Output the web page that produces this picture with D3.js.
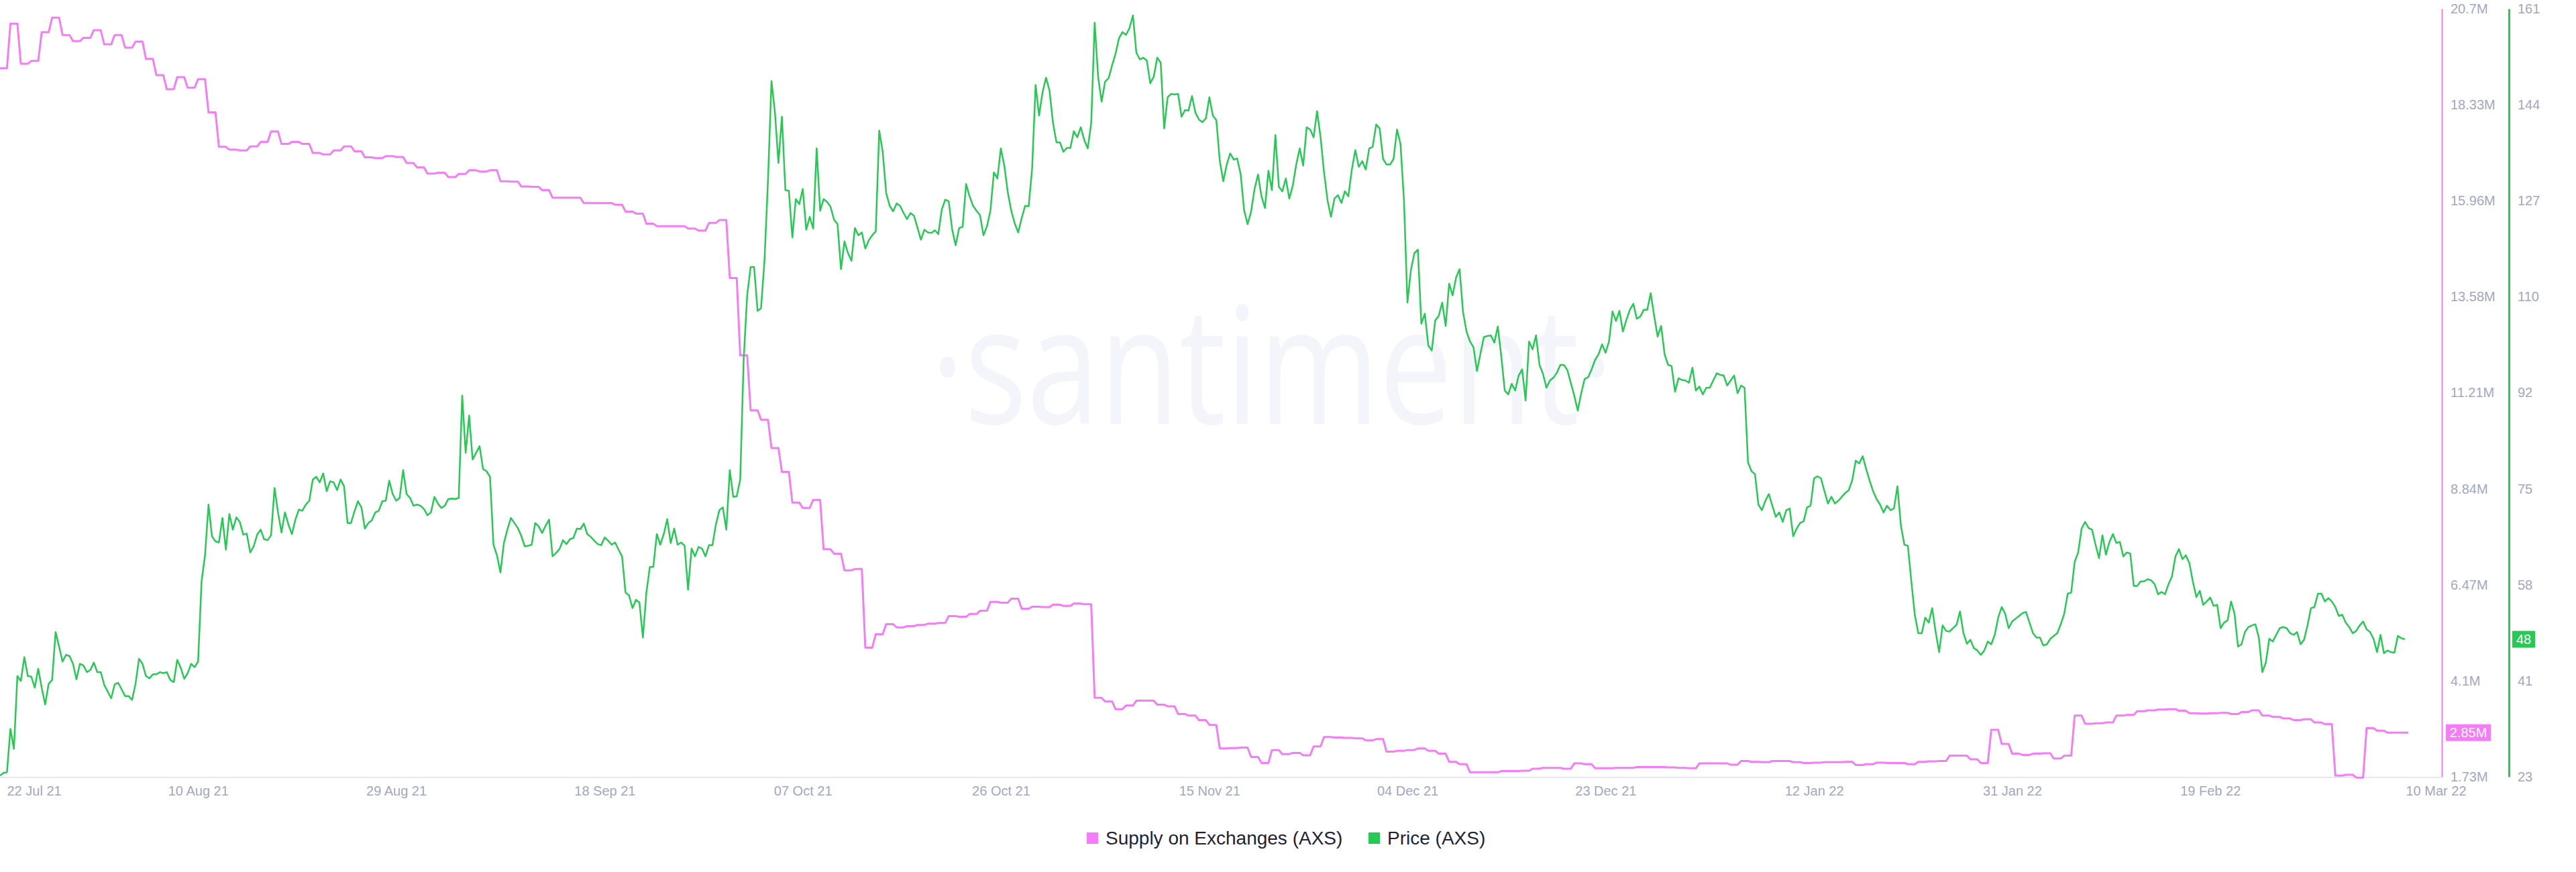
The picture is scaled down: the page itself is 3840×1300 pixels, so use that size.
<!DOCTYPE html>
<html><head><meta charset="utf-8">
<script src="https://cdn.jsdelivr.net/npm/d3@7"></script>
<style>html,body{margin:0;padding:0;background:#fff;} svg{display:block;}</style>
</head><body>
<svg id="chart" width="3840" height="1300"></svg>
<script>
// ---------------- DATA ----------------
const startDate = "2021-07-22T00:00:00Z";
const endDate = "2022-03-10T00:00:00Z";
const priceStepHours = 8;
const supplyStepHours = 24;
const seriesNames = ["Supply on Exchanges (AXS)", "Price (AXS)"];

// Price (AXS), USD, one value every 8 hours from startDate
const priceValues = [
23.2,23.7,23.8,31.6,28.0,41.1,40.2,44.5,41.1,41.0,39.0,42.4,39.0,36.0,39.7,40.4,49.0,46.4,43.7,44.9,
44.7,43.3,40.5,43.3,43.0,41.8,42.2,43.5,41.8,41.8,39.5,38.3,37.1,39.6,39.9,38.7,37.5,37.5,36.8,39.7,
44.2,43.3,41.1,40.7,41.4,41.4,41.8,41.6,41.8,40.4,40.0,44.0,42.6,40.6,41.6,43.3,42.7,43.7,58.1,62.8,
71.9,66.2,65.3,65.1,69.5,63.8,70.2,67.4,69.6,68.8,66.5,66.7,63.3,64.4,66.5,67.4,65.7,65.5,66.4,74.9,
70.5,66.9,70.5,68.3,66.6,69.2,71.0,70.8,71.9,72.6,76.4,76.9,75.9,77.5,74.3,76.1,75.9,74.5,76.4,75.2,
68.6,68.6,70.7,72.5,71.4,67.6,68.6,69.1,70.5,70.8,72.5,72.6,76.2,73.8,72.6,73.1,78.1,73.8,73.1,71.7,
71.9,71.7,71.1,70.0,70.5,73.3,72.1,71.3,71.7,72.9,73.0,72.9,73.1,91.5,81.2,87.9,80.0,81.2,82.4,78.3,
77.9,76.9,64.7,62.8,59.7,65.0,67.4,69.5,68.6,67.7,66.3,64.4,64.5,64.7,68.6,68.0,66.8,68.1,69.2,62.6,
63.2,63.9,65.5,64.8,65.7,65.9,67.6,67.5,68.5,66.6,66.1,65.4,64.8,64.6,66.0,65.4,64.7,65.1,63.8,62.6,
56.1,55.6,53.3,54.8,54.3,48.0,56.1,60.7,60.7,66.6,64.7,66.6,69.3,65.0,67.6,64.7,65.1,64.5,56.6,64.0,
62.6,64.3,64.0,62.6,64.6,64.6,68.3,70.9,71.4,67.4,78.1,73.3,73.4,76.4,98.0,109.5,114.6,114.6,106.7,107.2,
115.9,130.3,148.0,142.3,133.3,141.6,128.4,128.3,119.9,126.8,125.9,128.6,121.3,123.6,121.5,135.9,124.7,126.8,126.3,125.4,
123.1,122.3,114.2,119.2,117.1,115.7,121.6,120.3,120.8,117.9,119.4,120.3,121.0,139.1,135.3,127.9,125.6,124.6,126.0,125.6,
124.3,123.2,124.3,123.8,121.7,119.5,121.3,120.8,120.7,121.2,120.5,124.9,126.7,126.4,121.3,118.5,121.6,121.8,129.5,127.3,
125.6,124.7,123.9,120.3,121.9,124.7,131.6,130.5,135.9,132.8,128.0,124.7,122.4,120.8,123.4,125.6,125.5,132.3,147.3,141.8,
146.0,148.6,146.3,140.5,137.0,137.0,135.3,136.0,136.0,139.0,137.9,139.7,137.4,135.9,140.4,158.5,148.7,144.3,147.9,148.5,
150.8,152.9,155.7,156.8,156.3,157.5,159.8,153.1,151.9,152.2,151.7,147.6,148.8,152.2,151.3,139.5,145.1,145.7,145.6,145.7,
141.6,142.8,142.7,145.3,142.3,141.1,140.6,141.3,145.1,141.8,141.0,133.7,130.0,133.0,135.0,133.9,134.1,131.3,124.8,122.3,
124.5,128.6,131.2,127.3,125.2,131.9,128.4,138.3,129.0,128.2,130.5,126.9,129.2,133.0,135.9,132.8,139.7,139.3,137.9,142.6,
137.9,131.6,126.6,123.6,126.9,127.5,126.1,128.2,127.3,132.1,135.6,132.6,133.6,132.1,135.9,136.2,140.2,139.5,134.0,133.0,
133.0,134.0,139.3,136.7,126.6,108.2,114.1,117.1,117.7,104.4,106.2,100.5,99.6,105.0,105.8,108.2,104.0,111.6,109.5,112.7,
114.2,106.5,103.0,101.2,100.2,95.9,99.0,102.0,102.2,102.3,101.0,103.9,98.6,92.4,91.7,93.6,92.4,95.1,96.2,90.6,
101.2,99.8,102.3,97.0,95.4,92.9,94.2,94.7,95.6,97.0,97.0,96.1,93.8,91.5,88.8,91.9,94.5,94.8,96.2,97.9,
98.9,100.7,99.2,101.2,106.6,104.9,106.7,103.0,105.1,106.9,108.0,105.3,105.7,106.9,106.9,109.9,105.8,102.1,104.0,98.9,
97.0,96.8,92.2,94.6,94.3,94.2,93.8,96.5,92.4,93.1,91.7,92.9,92.9,94.2,95.5,95.2,95.1,93.3,94.2,95.1,
91.9,93.3,92.9,79.5,77.9,77.4,71.9,70.9,72.6,73.8,71.7,69.7,70.5,68.8,70.9,71.2,66.2,67.6,68.6,68.9,
71.4,71.7,76.6,77.0,76.6,74.3,72.1,73.3,72.1,72.6,73.3,74.0,74.5,76.3,79.8,79.3,80.6,78.3,76.2,74.3,
72.9,71.9,70.5,71.7,70.9,71.2,75.2,68.1,64.7,64.5,58.1,52.1,48.8,48.8,51.6,50.7,53.3,49.0,45.4,50.2,
49.2,49.1,49.7,50.3,52.7,48.8,46.9,47.6,46.1,45.7,44.9,45.7,47.3,46.8,48.5,51.6,53.5,52.3,49.7,50.9,
51.4,51.9,52.4,52.6,50.7,48.8,48.0,48.0,46.6,46.8,47.8,48.3,48.8,50.4,52.3,55.9,56.1,61.6,63.3,67.6,
68.8,67.7,67.4,64.7,62.3,66.4,62.9,65.2,66.6,65.0,65.2,62.6,63.3,63.1,57.3,57.3,58.1,58.1,58.5,58.3,
57.6,55.8,56.2,55.8,57.6,59.0,62.6,63.9,62.1,62.8,61.4,58.1,55.3,56.4,53.9,54.5,55.2,53.7,53.9,49.7,
50.7,51.1,54.5,52.3,46.4,46.8,49.0,49.9,50.2,50.4,48.0,41.8,43.5,47.8,47.3,48.5,49.7,49.9,49.7,48.8,
48.5,49.0,46.8,47.6,50.2,53.3,53.5,55.9,55.9,54.5,55.1,54.5,53.5,51.9,52.1,50.7,49.9,48.8,49.2,50.2,
50.9,49.5,49.0,47.8,45.4,48.5,45.2,45.7,45.4,45.3,48.3,47.9,47.7
];

// Supply on Exchanges (AXS), millions, one value per day from startDate
const supplyValues = [
19.23,20.33,19.34,19.41,20.12,20.48,20.05,19.90,19.98,20.17,19.82,20.05,19.74,19.89,19.46,19.06,18.71,19.01,18.75,18.96,
18.14,17.29,17.22,17.20,17.30,17.41,17.67,17.36,17.41,17.36,17.14,17.10,17.20,17.30,17.18,17.03,17.01,17.06,17.04,16.89,
16.78,16.63,16.65,16.54,16.62,16.71,16.68,16.71,16.44,16.43,16.31,16.30,16.22,16.03,16.03,16.03,15.90,15.90,15.90,15.86,
15.69,15.64,15.39,15.33,15.33,15.33,15.27,15.22,15.41,15.48,14.05,12.14,10.78,10.55,9.85,9.26,8.50,8.37,8.57,7.35,
7.24,6.83,6.86,4.92,5.25,5.50,5.42,5.45,5.48,5.51,5.53,5.70,5.68,5.75,5.83,6.05,6.03,6.13,5.88,5.93,
5.92,5.98,5.95,6.01,5.99,3.68,3.59,3.40,3.49,3.61,3.61,3.51,3.47,3.28,3.24,3.13,3.01,2.43,2.44,2.45,
2.22,2.07,2.39,2.29,2.32,2.26,2.48,2.71,2.70,2.69,2.68,2.63,2.66,2.35,2.37,2.39,2.43,2.37,2.30,2.10,
2.04,1.84,1.84,1.84,1.87,1.87,1.88,1.93,1.95,1.95,1.93,2.06,2.04,1.94,1.94,1.95,1.95,1.97,1.97,1.97,
1.96,1.95,1.94,2.06,2.06,2.06,2.03,2.12,2.10,2.09,2.12,2.12,2.09,2.07,2.08,2.09,2.09,2.10,2.02,2.04,
2.08,2.07,2.07,2.04,2.10,2.11,2.12,2.25,2.25,2.16,2.07,2.89,2.54,2.30,2.27,2.30,2.31,2.18,2.25,3.24,
3.04,3.05,3.07,3.24,3.26,3.35,3.37,3.39,3.40,3.36,3.30,3.29,3.30,3.31,3.28,3.33,3.37,3.24,3.21,3.17,
3.13,3.15,3.07,3.03,1.76,1.78,1.71,2.93,2.87,2.82,2.82,2.82
];

const xTickDates = ["2021-07-22","2021-08-10","2021-08-29","2021-09-18","2021-10-07","2021-10-26",
  "2021-11-15","2021-12-04","2021-12-23","2022-01-12","2022-01-31","2022-02-19","2022-03-10"];
const xTickLabels = ["22 Jul 21","10 Aug 21","29 Aug 21","18 Sep 21","07 Oct 21","26 Oct 21",
  "15 Nov 21","04 Dec 21","23 Dec 21","12 Jan 22","31 Jan 22","19 Feb 22","10 Mar 22"];

const supplyTickValues = [1.73, 4.10125, 6.4725, 8.84375, 11.215, 13.58625, 15.9575, 18.32875, 20.7];
const supplyTickLabels = ["1.73M","4.1M","6.47M","8.84M","11.21M","13.58M","15.96M","18.33M","20.7M"];
const priceTickValues = [23, 40.25, 57.5, 74.75, 92, 109.25, 126.5, 143.75, 161];
const priceTickLabels = ["23","41","58","75","92","110","127","144","161"];

const lastSupplyLabel = "2.85M";
const lastPriceLabel = "48";

// ---------------- LAYOUT / STYLE ----------------
const PINK = "#f47cf6", GREEN = "#26c953";
const TICK_COLOR = "#9fa8c0";
const plotLeft = 0, plotRight = 3590, plotTop = 13, plotBottom = 1158;
const supplyAxisX = 3640, priceAxisX = 3740;
const FONT = "'Liberation Sans', Arial, Helvetica, sans-serif";

const svg = d3.select("#chart");
svg.append("rect").attr("width",3840).attr("height",1300).attr("fill","#fff");

const t0 = new Date(startDate), t1 = new Date(endDate);
const x = d3.scaleUtc().domain([t0, t1]).range([plotLeft, plotRight]);
const ySupply = d3.scaleLinear().domain([1.73, 20.7]).range([plotBottom, plotTop]);
const yPrice = d3.scaleLinear().domain([23, 161]).range([plotBottom, plotTop]);

const H = 3600 * 1000;
const priceData = priceValues.map((v, i) => ({ t: new Date(t0.getTime() + i * priceStepHours * H), v }));
const supplyData = supplyValues.map((v, i) => ({ t: new Date(t0.getTime() + i * supplyStepHours * H), v }));

// watermark
svg.append("text")
  .attr("transform", "translate(1896,632) scale(0.8,1)")
  .attr("text-anchor", "middle")
  .attr("font-family", "'Open Sans', 'Noto Sans', sans-serif")
  .attr("font-weight", 400)
  .attr("font-size", 243)
  .attr("fill", "#f3f5fa")
  .text("·santiment·");

// x baseline
svg.append("line")
  .attr("x1", 0).attr("x2", supplyAxisX)
  .attr("y1", plotBottom + 1).attr("y2", plotBottom + 1)
  .attr("stroke", "#e4e8f1").attr("stroke-width", 2);

// stepped supply curve: hold value, then slant to next value
function curveSlantStep(context) {
  let x0, y0, n = 0;
  return {
    areaStart() {}, areaEnd() {},
    lineStart() { n = 0; },
    lineEnd() {},
    point(px, py) {
      px = +px; py = +py;
      if (n === 0) context.moveTo(px, py);
      else { context.lineTo(x0 + (px - x0) * 2 / 3, y0); context.lineTo(px, py); }
      x0 = px; y0 = py; n++;
    }
  };
}

const supplyLine = d3.line().x(d => x(d.t)).y(d => ySupply(d.v)).curve(curveSlantStep);
const priceLine = d3.line().x(d => x(d.t)).y(d => yPrice(d.v)).curve(d3.curveLinear);

svg.append("path").datum(supplyData)
  .attr("d", supplyLine).attr("fill", "none")
  .attr("stroke", PINK).attr("stroke-width", 3).attr("stroke-linejoin", "round");

svg.append("path").datum(priceData)
  .attr("d", priceLine).attr("fill", "none")
  .attr("stroke", GREEN).attr("stroke-width", 2.5).attr("stroke-linejoin", "round");

// right axes
function styleAxis(g, color, width) {
  g.select(".domain").attr("stroke", color).attr("stroke-width", width);
  g.selectAll(".tick line").remove();
  g.selectAll(".tick text")
    .attr("font-family", FONT).attr("font-size", 20).attr("fill", TICK_COLOR);
}
const gS = svg.append("g").attr("transform", `translate(${supplyAxisX},0)`)
  .call(d3.axisRight(ySupply).tickValues(supplyTickValues).tickSize(0).tickSizeOuter(0)
    .tickPadding(13).tickFormat((d, i) => supplyTickLabels[i]));
styleAxis(gS, PINK, 2);
const gP = svg.append("g").attr("transform", `translate(${priceAxisX},0)`)
  .call(d3.axisRight(yPrice).tickValues(priceTickValues).tickSize(0).tickSizeOuter(0)
    .tickPadding(13).tickFormat((d, i) => priceTickLabels[i]));
styleAxis(gP, GREEN, 3);

// x axis labels
const tickDates = xTickDates.map(s => new Date(s + "T00:00:00Z"));
const gX = svg.append("g").attr("transform", `translate(0,${plotBottom + 1})`)
  .call(d3.axisBottom(x).tickValues(tickDates).tickSize(0).tickFormat((d, i) => xTickLabels[i]));
gX.select(".domain").remove();
gX.selectAll(".tick text")
  .attr("y", 20).attr("dy", "0.35em")
  .attr("font-family", FONT).attr("font-size", 20).attr("fill", TICK_COLOR)
  .each(function(d, i) {
    if (i === 0) d3.select(this).attr("text-anchor", "start").attr("x", 10);
    if (i === xTickLabels.length - 1) d3.select(this).attr("text-anchor", "start").attr("x", -4);
  });

// last-value badges
function badge(xLeft, yc, w, color, label) {
  svg.append("rect").attr("x", xLeft).attr("y", yc - 12.5).attr("width", w).attr("height", 25).attr("fill", color);
  svg.append("text").attr("x", xLeft + w / 2).attr("y", yc).attr("dy", "0.35em")
    .attr("text-anchor", "middle").attr("font-family", FONT).attr("font-size", 20)
    .attr("fill", "#fff").text(label);
}
badge(supplyAxisX + 6, ySupply(supplyValues[supplyValues.length - 1]), 67, PINK, lastSupplyLabel);
badge(priceAxisX + 5, yPrice(priceValues[priceValues.length - 1]), 34, GREEN, lastPriceLabel);

// legend
const legend = [{ name: seriesNames[0], color: PINK, x: 1620 }, { name: seriesNames[1], color: GREEN, x: 2040 }];
legend.forEach(l => {
  svg.append("rect").attr("x", l.x).attr("y", 1241).attr("width", 17).attr("height", 17).attr("fill", l.color);
  svg.append("text").attr("x", l.x + 28).attr("y", 1249.5).attr("dy", "0.35em")
    .attr("font-family", FONT).attr("font-size", 28).attr("fill", "#1e2235").text(l.name);
});
</script>
</body></html>
